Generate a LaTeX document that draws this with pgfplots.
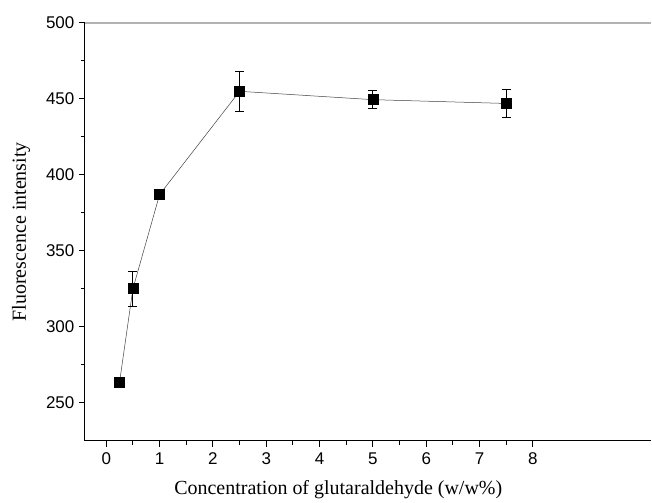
\documentclass[border=0pt]{standalone}
\usepackage{fontspec}
\setmainfont{Liberation Serif}
\newfontfamily\arial{Liberation Sans}
\usepackage{pgfplots}
\pgfplotsset{compat=1.18}

\begin{document}
\begin{tikzpicture}
\begin{axis}[
    name=ax,
    width=567pt, height=418pt,
    scale only axis,
    xmin=-0.4, xmax=10.22,
    ymin=225, ymax=500,
    axis x line=bottom, axis y line=left,
    axis line style={-, line width=1pt},
    xtick={0,1,...,8},
    ytick={250,300,...,500},
    minor x tick num=1,
    minor y tick num=1,
    xtick align=outside, ytick align=outside,
    major tick length=6pt, minor tick length=4pt,
    tick style={black, line width=1pt},
    /pgf/number format/assume math mode=true,
    ticklabel style={font=\arial\fontsize{17}{20}\selectfont},
    xticklabel style={yshift=-3pt},
    yticklabel style={xshift=-1pt},
    xlabel={Concentration of glutaraldehyde (w/w\%)},
    ylabel={Fluorescence intensity},
    label style={font=\fontsize{20}{23}\selectfont},
    xlabel style={at={(axis cs:4.35,225)}, anchor=center, yshift=-49pt},
    ylabel style={at={(axis description cs:0,0.5)}, anchor=center, yshift=64pt},
    clip=false,
]
\draw[gray!60, line width=1.3pt] (rel axis cs:0,1) -- (rel axis cs:1,1);
\addplot[black!75, line width=0.5pt, mark=square*, mark size=5pt,
    mark options={black, solid},
    error bars/.cd, y dir=both, y explicit,
    error bar style={black, line width=1pt},
    error mark options={rotate=90, mark size=4.5pt, line width=1pt, black}]
    coordinates {
    (0.25,263.5) +- (0,2)
    (0.5,325) +- (0,11.5)
    (1,387) +- (0,1.5)
    (2.5,455) +- (0,13)
    (5,449.5) +- (0,6)
    (7.5,447) +- (0,9)
    };
\end{axis}
\path ([xshift=-85pt,yshift=23pt]ax.north west) rectangle ([yshift=-58pt]ax.south east);
\end{tikzpicture}
\end{document}
